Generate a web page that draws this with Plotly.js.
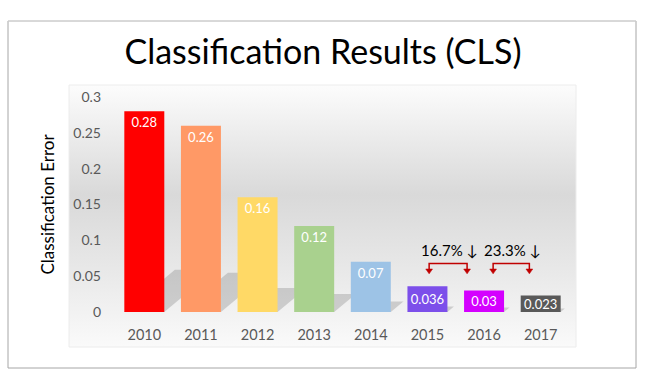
<!DOCTYPE html>
<html>
<head>
<meta charset="utf-8">
<script src="https://cdn.plot.ly/plotly-3.0.1.min.js"></script>
<style>html,body{margin:0;padding:0;background:#fff;}#chart{width:645px;height:378px;}</style>
</head>
<body>
<div id="chart"></div>
<script>
// ---- data ----
var years = ['2010', '2011', '2012', '2013', '2014', '2015', '2016', '2017'];
var errors = [0.28, 0.26, 0.16, 0.12, 0.07, 0.036, 0.03, 0.023];
var barColors = ['#FF0000', '#FF9966', '#FFD966', '#A9D18E', '#9DC3E6', '#7C4FEA', '#D400FF', '#595959'];
var yTicks = [0, 0.05, 0.1, 0.15, 0.2, 0.25, 0.3];
var yTickText = ['0', '0.05', '0.1', '0.15', '0.2', '0.25', '0.3'];
var compareFrom = [5, 6]; // indices compared with the next year

// ---- layout geometry ----
var W = 645, H = 378;
var L = 116, R = 76, T = 97, B = 66;
var pw = W - L - R, ph = H - T - B;
function px2x(px) { return (px - L) / pw; }
function py2y(py) { return (H - B - py) / ph; }
var catPx = pw / years.length;      // pixels per category
var valPx = ph / 0.3;               // pixels per unit value

var idx = years.map(function (_, i) { return i; });
var halfBar = 0.353;
var split = 5; // small bars (from 2015) get their label centred

var shapes = [];
// outer frame
shapes.push({type: 'rect', xref: 'paper', yref: 'paper', x0: px2x(8), x1: px2x(636), y0: py2y(368), y1: py2y(21),
  line: {color: '#a6a6a6', width: 1}, fillcolor: 'rgba(0,0,0,0)', layer: 'below'});
shapes.push({type: 'line', xref: 'paper', yref: 'paper', x0: px2x(8), x1: px2x(636), y0: py2y(21), y1: py2y(21),
  line: {color: '#dedede', width: 1}, layer: 'below'});
// chart area border
shapes.push({type: 'rect', xref: 'paper', yref: 'paper', x0: px2x(69), x1: px2x(576), y0: py2y(347), y1: py2y(85),
  line: {color: '#ececec', width: 1}, fillcolor: 'rgba(0,0,0,0)', layer: 'below'});

// bar shadows (derived from values)
errors.forEach(function (v, i) {
  var hPx = v * valPx * 0.21;
  var h = hPx / valPx;
  var dx = hPx * 1.2 / catPx;
  var xl = i - halfBar, xr = i + halfBar;
  shapes.push({type: 'path', xref: 'x', yref: 'y', layer: 'below',
    path: 'M' + xl + ',0 L' + xr + ',0 L' + (xr + dx) + ',' + h + ' L' + (xl + dx) + ',' + h + ' Z',
    fillcolor: 'rgba(120,120,120,0.3)', line: {width: 0}});
});

// red brackets + percentage annotations
var annotations = [];
compareFrom.forEach(function (i, k) {
  var a = i + (k === 0 ? 0.03 : 0.16);
  var b = i + (k === 0 ? 0.7 : 0.8);
  var yTop = 0.0677, yEnd = 0.059, yTip = 0.0532;
  shapes.push({type: 'path', xref: 'x', yref: 'y', path: 'M' + a + ',' + yEnd + ' L' + a + ',' + yTop + ' L' + b + ',' + yTop + ' L' + b + ',' + yEnd,
    line: {color: '#C00000', width: 1.5}, fillcolor: 'rgba(0,0,0,0)'});
  [a, b].forEach(function (x) {
    shapes.push({type: 'path', xref: 'x', yref: 'y', path: 'M' + (x - 0.06) + ',' + (yEnd + 0.001) + ' L' + (x + 0.06) + ',' + (yEnd + 0.001) + ' L' + x + ',' + yTip + ' Z',
      line: {color: '#C00000', width: 0.5}, fillcolor: '#C00000'});
  });
  var pct = ((errors[i] - errors[i + 1]) / errors[i] * 100).toFixed(1) + '% ↓';
  annotations.push({x: (a + b) / 2 + 0.02, y: 0.087, xref: 'x', yref: 'y', text: pct, showarrow: false,
    font: {family: 'Lato, sans-serif', size: 15, color: '#000'}});
});

var bgSvg = '<svg xmlns="http://www.w3.org/2000/svg" width="100" height="100" preserveAspectRatio="none">' +
  '<defs><linearGradient id="g" x1="0" y1="0" x2="0" y2="1">' +
  '<stop offset="0" stop-color="#fcfcfc"/><stop offset="0.42" stop-color="#d9d9d9"/>' +
  '<stop offset="0.72" stop-color="#e9e9e9"/><stop offset="1" stop-color="#fafafa"/></linearGradient></defs>' +
  '<rect width="100" height="100" fill="url(#g)"/></svg>';

function barTrace(from, to, anchor) {
  return {
    type: 'bar',
    x: idx.slice(from, to),
    y: errors.slice(from, to),
    marker: {color: barColors.slice(from, to), line: {width: 0}},
    text: errors.slice(from, to).map(String),
    textposition: 'inside',
    insidetextanchor: anchor,
    constraintext: 'none',
    textangle: 0,
    textfont: {family: 'Lato, sans-serif', size: 13, color: '#ffffff'},
    cliponaxis: false,
    hoverinfo: 'none'
  };
}
var traces = [barTrace(0, split, 'end'), barTrace(split, years.length, 'middle')];

var layout = {
  width: W, height: H,
  margin: {l: L, r: R, t: T, b: B, pad: 0},
  paper_bgcolor: '#ffffff',
  plot_bgcolor: 'rgba(0,0,0,0)',
  showlegend: false,
  barmode: 'overlay',
  bargap: 0.294,
  title: {text: 'Classification Results (CLS)', font: {family: 'Lato, sans-serif', size: 34, color: '#000'},
    x: 323 / W, xref: 'container', xanchor: 'center', y: 1 - 52 / H, yref: 'container', yanchor: 'middle'},
  xaxis: {range: [-0.5, 7.5], tickvals: idx, ticktext: years, showgrid: false, zeroline: false, showline: false,
    ticks: '', ticklabelstandoff: 12, tickfont: {family: 'Lato, sans-serif', size: 14.5, color: '#595959'}, fixedrange: true},
  yaxis: {range: [0, 0.3], tickvals: yTicks, ticktext: yTickText, showgrid: false, zeroline: false, showline: false,
    ticks: '', ticklabelstandoff: 14, tickfont: {family: 'Lato, sans-serif', size: 14, color: '#595959'},
    title: {text: 'Classification Error', font: {family: 'Lato, sans-serif', size: 17, color: '#000'}, standoff: 14}, fixedrange: true},
  images: [{source: 'data:image/svg+xml;charset=utf-8,' + encodeURIComponent(bgSvg), xref: 'paper', yref: 'paper',
    x: px2x(69), y: py2y(85), sizex: px2x(576) - px2x(69), sizey: py2y(85) - py2y(347),
    xanchor: 'left', yanchor: 'top', sizing: 'stretch', layer: 'below'}],
  shapes: shapes,
  annotations: annotations
};

Plotly.newPlot('chart', traces, layout, {displayModeBar: false, staticPlot: true});
</script>
</body>
</html>
